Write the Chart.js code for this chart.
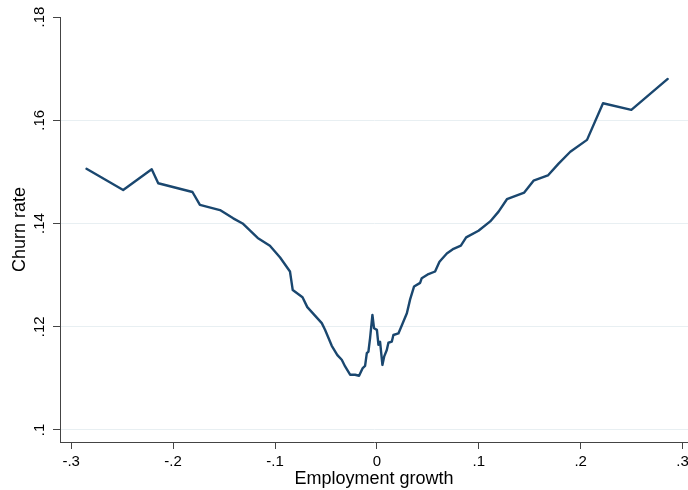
<!DOCTYPE html>
<html>
<head>
<meta charset="utf-8">
<script src="https://cdn.jsdelivr.net/npm/chart.js@4.4.1/dist/chart.umd.min.js"></script>
<style>
  html, body { margin: 0; padding: 0; background: #fff; }
  #wrap { width: 688px; height: 490px; }
</style>
</head>
<body>
<div id="wrap"><canvas id="churnChart" width="688" height="490"></canvas></div>
<script>
// employment growth (x) and churn rate (y)
const growth = [
  -0.285, -0.249, -0.221, -0.2146, -0.181, -0.1737, -0.154, -0.141, -0.1318, -0.117,
  -0.105, -0.095, -0.0853, -0.0826, -0.073, -0.0683, -0.0541, -0.0509, -0.0443, -0.0388,
  -0.0345, -0.0312, -0.0263, -0.0214, -0.0175, -0.0139, -0.0116, -0.0099, -0.0083, -0.0067,
  -0.0044, -0.0028, 0.0, 0.0015, 0.0031, 0.0054, 0.0071, 0.0097, 0.0113, 0.0146,
  0.0162, 0.0211, 0.0245, 0.0294, 0.0326, 0.0365, 0.0424, 0.044, 0.0506, 0.0571,
  0.0614, 0.0686, 0.0752, 0.0824, 0.0876, 0.0997, 0.1112, 0.1194, 0.1276, 0.1446,
  0.1537, 0.1678, 0.1783, 0.1898, 0.2062, 0.2219, 0.2497, 0.2854
];
const churn = [
  0.1506, 0.1465, 0.1505, 0.1478, 0.1461, 0.1436, 0.1426, 0.1410, 0.1400, 0.1372,
  0.1357, 0.1334, 0.1307, 0.1271, 0.1257, 0.1238, 0.1207, 0.1194, 0.1163, 0.1145,
  0.1136, 0.1123, 0.1107, 0.1107, 0.1105, 0.1120, 0.1124, 0.1149, 0.1152, 0.1178,
  0.1223, 0.1197, 0.1194, 0.1165, 0.1171, 0.1126, 0.1142, 0.1155, 0.1169, 0.1171,
  0.1184, 0.1187, 0.1203, 0.1226, 0.1253, 0.1278, 0.1285, 0.1294, 0.1302, 0.1307,
  0.1326, 0.1342, 0.1351, 0.1357, 0.1373, 0.1386, 0.1404, 0.1423, 0.1447, 0.1460,
  0.1483, 0.1493, 0.1516, 0.1539, 0.1562, 0.1633, 0.1620, 0.1680
];
const xTicks = [-0.3, -0.2, -0.1, 0, 0.1, 0.2, 0.3];
const xTickLabels = ["-.3", "-.2", "-.1", "0", ".1", ".2", ".3"];
const yTicks = [0.1, 0.12, 0.14, 0.16, 0.18];
const yTickLabels = [".1", ".12", ".14", ".16", ".18"];

const axisColor = "#444";
const gridColor = "#e8eff2";
const tickFont = { family: "'Liberation Sans', Arial, sans-serif", size: 15 };
const titleFont = { family: "'Liberation Sans', Arial, sans-serif", size: 18 };

const points = growth.map((g, i) => ({ x: g, y: churn[i] }));

new Chart(document.getElementById("churnChart"), {
  type: "line",
  data: {
    datasets: [{
      data: points,
      borderColor: "#1a476f",
      borderWidth: 2.4,
      borderJoinStyle: "round",
      borderCapStyle: "round",
      pointRadius: 0,
      tension: 0,
      fill: false
    }]
  },
  options: {
    responsive: false,
    animation: false,
    layout: { padding: { top: 17, right: 0, bottom: 0, left: 0 } },
    plugins: { legend: { display: false }, tooltip: { enabled: false } },
    scales: {
      x: {
        type: "linear",
        min: -0.311,
        max: 0.3053,
        afterBuildTicks: s => { s.ticks = xTicks.map(v => ({ value: v })); },
        afterFit: s => { s.height = 48; s.paddingLeft = 0; s.paddingRight = 0; },
        ticks: {
          color: "#000",
          font: tickFont,
          padding: 4,
          maxRotation: 0,
          autoSkip: false,
          callback: (v, i) => xTickLabels[i]
        },
        grid: { drawOnChartArea: false, drawTicks: true, tickLength: 7, tickColor: axisColor },
        border: { display: true, color: axisColor, width: 1 },
        title: { display: true, text: "Employment growth", color: "#000", font: titleFont, padding: { top: 0, bottom: 0 } }
      },
      y: {
        type: "linear",
        min: 0.09767,
        max: 0.18,
        afterBuildTicks: s => { s.ticks = yTicks.map(v => ({ value: v })); },
        afterFit: s => { s.width = 60; s.paddingTop = 0; s.paddingBottom = 0; },
        ticks: {
          color: "#000",
          font: tickFont,
          padding: 3,
          minRotation: 90,
          maxRotation: 90,
          crossAlign: "center",
          autoSkip: false,
          callback: (v, i) => yTickLabels[i]
        },
        grid: {
          color: c => (c.tick && c.tick.value === 0.18 ? "rgba(0,0,0,0)" : gridColor),
          lineWidth: 1,
          tickLength: 7,
          tickColor: axisColor
        },
        border: { display: true, color: axisColor, width: 1 },
        title: { display: true, text: "Churn rate", color: "#000", font: titleFont, padding: { top: 9, bottom: 0 } }
      }
    }
  }
});
</script>
</body>
</html>
